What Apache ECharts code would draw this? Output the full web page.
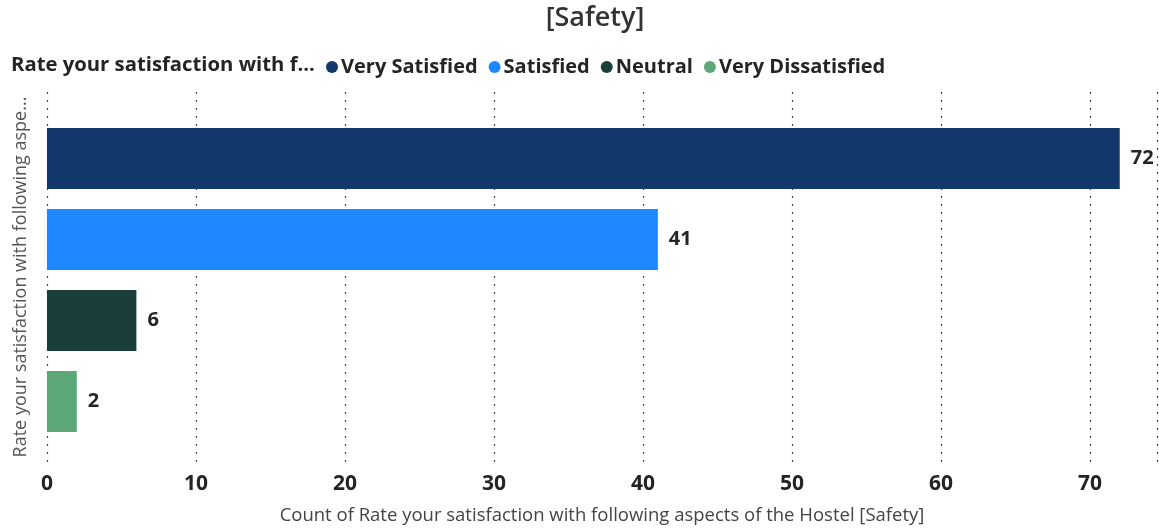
<!DOCTYPE html>
<html>
<head>
<meta charset="utf-8">
<script src="https://cdn.jsdelivr.net/npm/echarts@6/dist/echarts.min.js"></script>
<style>
html,body{margin:0;padding:0;background:#fff;}
#chart{width:1161px;height:530px;}
</style>
</head>
<body>
<div id="chart"></div>
<script>
const categories = ['Very Satisfied', 'Satisfied', 'Neutral', 'Very Dissatisfied'];
const counts = [72, 41, 6, 2];
const colors = ['#12386B', '#1F87FF', '#1A3F3A', '#5BA777'];
const xTicks = [0, 10, 20, 30, 40, 50, 60, 70];

const FONT = '"Open Sans", "Noto Sans", sans-serif';
const chart = echarts.init(document.getElementById('chart'));

const series = categories.map((c, i) => ({
  name: c,
  type: 'bar',
  stack: 'all',
  xAxisIndex: 1,
  yAxisIndex: 1,
  barWidth: 61,
  itemStyle: { color: colors[i] },
  label: {
    show: true,
    position: 'right',
    distance: 11,
    fontFamily: FONT,
    fontWeight: 'bold',
    fontSize: 20,
    color: '#252423'
  },
  data: categories.map((_, j) => (j === i ? counts[i] : '-'))
}));

chart.setOption({
  animation: false,
  title: [
    {
      text: '[Safety]',
      left: 590, textAlign: 'center',
      top: 0,
      textStyle: { fontFamily: FONT, fontSize: 27, fontWeight: 600, color: '#333' }
    },
    {
      text: 'Rate your satisfaction with f...',
      left: 6, top: 50,
      textStyle: { fontFamily: FONT, fontSize: 20.3, fontWeight: 'bold', color: '#252423' }
    }
  ],
  legend: {
    data: categories,
    left: 321, top: 52,
    icon: 'circle',
    itemWidth: 12, itemHeight: 12,
    itemGap: 11,
    textStyle: { fontFamily: FONT, fontSize: 20, fontWeight: 'bold', color: '#252423', padding: [0, 0, 0, -2] }
  },
  grid: [
    { left: 47, right: 4, top: 92, bottom: 65, containLabel: false },
    { left: 47, right: 4, top: 118, bottom: 88, containLabel: false }
  ],
  xAxis: [
    {
      gridIndex: 0, type: 'value', min: 0, max: 74.5, interval: 10,
      axisLine: { show: false }, axisTick: { show: false },
      splitLine: { show: true, lineStyle: { color: '#444', type: [2, 6], width: 1.2 } },
      axisLabel: {
        fontFamily: FONT, fontSize: 21, fontWeight: 'bold', color: '#252423', margin: 12,
        formatter: v => (xTicks.includes(v) ? String(v) : '')
      },
      name: 'Count of Rate your satisfaction with following aspects of the Hostel [Safety]',
      nameLocation: 'middle', nameGap: 44,
      nameTextStyle: { fontFamily: FONT, fontSize: 18.5, color: '#444' }
    },
    {
      gridIndex: 1, type: 'value', min: 0, max: 74.5, interval: 10,
      show: false, splitLine: { show: false }
    }
  ],
  yAxis: [
    {
      gridIndex: 0, type: 'category', data: [],
      axisLine: { show: false }, axisTick: { show: false }, axisLabel: { show: false },
      name: 'Rate your satisfaction with following aspe...',
      nameLocation: 'middle', nameGap: 17,
      nameTextStyle: { fontFamily: FONT, fontSize: 18, color: '#555' }
    },
    {
      gridIndex: 1, type: 'category', data: categories, inverse: true,
      show: false
    }
  ],
  series: series
});
</script>
</body>
</html>
